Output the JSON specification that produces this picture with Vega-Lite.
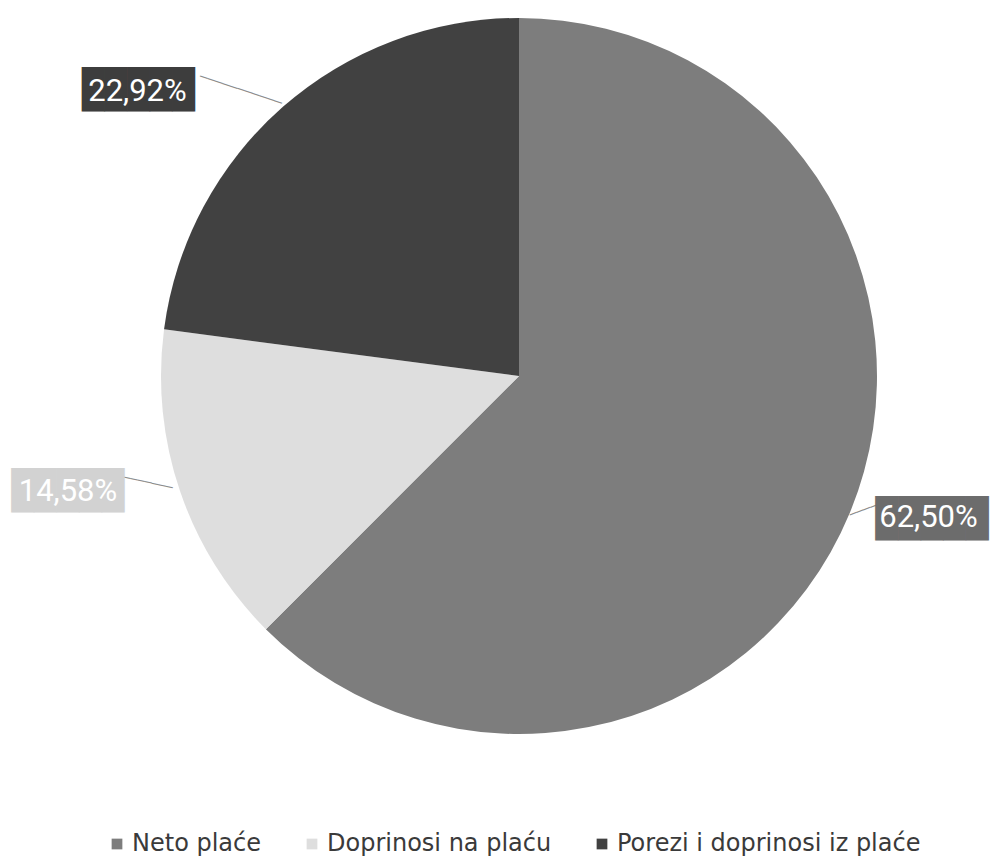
{
  "$schema": "https://vega.github.io/schema/vega-lite/v6.json",
  "width": 944,
  "height": 752,
  "autosize": {"type": "none"},
  "padding": {"left": 47, "top": 0, "right": 0, "bottom": 108},
  "background": "white",
  "data": {
    "values": [
      {"category": "Neto plaće", "value": 62.5, "label": "62,50%", "k": 1},
      {"category": "Doprinosi na plaću", "value": 14.58, "label": "14,58%", "k": 2},
      {"category": "Porezi i doprinosi iz plaće", "value": 22.92, "label": "22,92%", "k": 3}
    ]
  },
  "encoding": {
    "theta": {"field": "value", "type": "quantitative", "stack": true},
    "order": {"field": "k", "type": "quantitative"},
    "detail": {"field": "category", "type": "nominal"}
  },
  "layer": [
    {
      "mark": {"type": "arc", "radius": 358, "strokeWidth": 0},
      "encoding": {
        "color": {
          "field": "category",
          "type": "nominal",
          "scale": {
            "domain": ["Neto plaće", "Doprinosi na plaću", "Porezi i doprinosi iz plaće"],
            "range": ["#7d7d7d", "#dedede", "#414141"]
          },
          "legend": {
            "orient": "none",
            "legendX": 58,
            "legendY": 832,
            "direction": "horizontal",
            "title": null,
            "symbolType": "square",
            "symbolSize": 115,
            "symbolStrokeWidth": 0,
            "labelFont": "DejaVu Sans",
            "labelFontSize": 24,
            "labelColor": "#3a3a3a",
            "labelOffset": 3,
            "columnPadding": 38,
            "labelLimit": 500
          }
        }
      }
    },
    {
      "mark": {"type": "text", "radius": 400, "dx": -8.9, "dy": 18.5, "angle": 18.4, "font": "DejaVu Sans Mono", "fontSize": 13, "color": "#8c8c8c", "align": "center", "baseline": "middle"},
      "encoding": {"text": {"condition": {"test": "datum.k === 3", "value": "───────────"}, "value": ""}}
    },
    {
      "mark": {"type": "text", "radius": 400, "dx": 2.9, "dy": -23.3, "angle": 12.4, "font": "DejaVu Sans Mono", "fontSize": 12, "color": "#8c8c8c", "align": "center", "baseline": "middle"},
      "encoding": {"text": {"condition": {"test": "datum.k === 2", "value": "───────"}, "value": ""}}
    },
    {
      "mark": {"type": "text", "radius": 400, "dx": -16.9, "dy": -26.6, "angle": -20.3, "font": "DejaVu Sans Mono", "fontSize": 12, "color": "#8c8c8c", "align": "center", "baseline": "middle"},
      "encoding": {"text": {"condition": {"test": "datum.k === 1", "value": "────"}, "value": ""}}
    },
    {
      "mark": {"type": "text", "radius": 440, "dx": 6.5, "dy": -24.2, "font": "DejaVu Sans Mono", "fontSize": 37.5, "color": "#6c6c6c", "align": "center", "baseline": "middle"},
      "encoding": {"text": {"condition": {"test": "datum.k === 1", "value": "█████"}, "value": ""}}
    },
    {
      "mark": {"type": "text", "radius": 440, "dx": -34.4, "dy": -25.7, "font": "DejaVu Sans Mono", "fontSize": 37.5, "color": "#d2d2d2", "align": "center", "baseline": "middle"},
      "encoding": {"text": {"condition": {"test": "datum.k === 2", "value": "█████"}, "value": ""}}
    },
    {
      "mark": {"type": "text", "radius": 440, "dx": -90.4, "dy": 46, "font": "DejaVu Sans Mono", "fontSize": 37.5, "color": "#3d3d3d", "align": "center", "baseline": "middle"},
      "encoding": {"text": {"condition": {"test": "datum.k === 3", "value": "█████"}, "value": ""}}
    },
    {
      "mark": {"type": "text", "radius": 440, "dx": 3, "dy": -26.2, "font": "Roboto", "fontSize": 31, "color": "white", "align": "center", "baseline": "middle"},
      "encoding": {"text": {"condition": {"test": "datum.k === 1", "field": "label"}, "value": ""}}
    },
    {
      "mark": {"type": "text", "radius": 440, "dx": -34.4, "dy": -25.7, "font": "Roboto", "fontSize": 31, "color": "white", "align": "center", "baseline": "middle"},
      "encoding": {"text": {"condition": {"test": "datum.k === 2", "field": "label"}, "value": ""}}
    },
    {
      "mark": {"type": "text", "radius": 440, "dx": -91.4, "dy": 47, "font": "Roboto", "fontSize": 31, "color": "white", "align": "center", "baseline": "middle"},
      "encoding": {"text": {"condition": {"test": "datum.k === 3", "field": "label"}, "value": ""}}
    }
  ],
  "config": {"view": {"stroke": null}}
}
